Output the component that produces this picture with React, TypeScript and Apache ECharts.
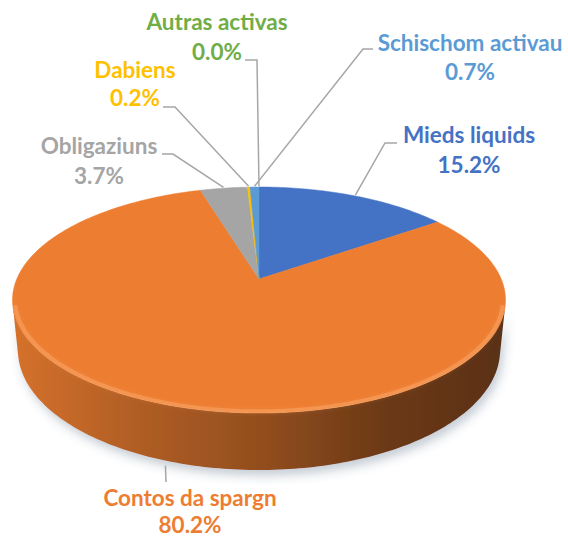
import React, { useEffect, useRef } from 'react';
import * as echarts from 'echarts';

// ---- data ----
const categories = ['Mieds liquids', 'Contos da spargn', 'Obligaziuns', 'Dabiens', 'Schischom activau', 'Autras activas'];
const shares = [15.2, 80.2, 3.7, 0.2, 0.7, 0.0];
const colors = ['#4472C4', '#ED7D31', '#A5A5A5', '#FFC000', '#5B9BD5', '#70AD47'];

// ---- layout (label anchors: center x, centers of the two text lines, leader start points) ----
const labelLayout = [
  { x: 469, y1: 134, y2: 164, lead: [[397, 143], [385, 143]], side: 'top' },
  { x: 190, y1: 497, y2: 524, lead: [[166, 482]], side: 'bottom' },
  { x: 99, y1: 145, y2: 175, lead: [[162, 154], [173, 154]], side: 'top' },
  { x: 135, y1: 69, y2: 97, lead: [[163, 107], [175, 107]], side: 'top' },
  { x: 470, y1: 42, y2: 71, lead: [[373, 49], [363, 49]], side: 'top' },
  { x: 217, y1: 21, y2: 51, lead: [[245, 60], [257, 60]], side: 'top' },
];

// perspective camera for the tilted disc
const CAM = { cx: 259, cy: 279, f: 1163.6, D: 4.804, s: 0.4504, c: 0.8928, h: 0.234 };

function proj(theta: number, r: number, zh: number): number[] {
  const X = r * Math.sin(theta);
  const Y = r * Math.cos(theta);
  const depth = CAM.D + Y * CAM.c - zh * CAM.s;
  return [CAM.cx + (CAM.f * X) / depth, CAM.cy - (CAM.f * (Y * CAM.s + zh * CAM.c)) / depth];
}

function arc(t0: number, t1: number, r: number, zh: number): number[][] {
  const n = Math.max(2, Math.ceil(((t1 - t0) * 180) / Math.PI));
  const pts: number[][] = [];
  for (let k = 0; k <= n; k++) pts.push(proj(t0 + ((t1 - t0) * k) / n, r, zh));
  return pts;
}

function shade(hex: string, f: number): string {
  const v = parseInt(hex.slice(1), 16);
  const r = Math.round(((v >> 16) & 255) * f);
  const g = Math.round(((v >> 8) & 255) * f);
  const b = Math.round((v & 255) * f);
  return `rgb(${r},${g},${b})`;
}

export default function App() {
  const ref = useRef<HTMLDivElement>(null);
  useEffect(() => {
    if (!ref.current) return;
    const chart = echarts.init(ref.current, undefined, { renderer: 'svg' });
    const total = shares.reduce((a, b) => a + b, 0);
    const starts: number[] = [];
    let acc = 0;
    shares.forEach((v) => {
      starts.push(acc);
      acc += v;
    });
    const k = 1 / (CAM.D * CAM.c);
    const vis0 = Math.acos(-k);
    const vis1 = 2 * Math.PI - vis0;
    const font = 'Lato, "Open Sans", sans-serif';

    const renderItem = (params: any, api: any) => {
      const i = params.dataIndex;
      const v = api.value(0);
      const t0 = (starts[i] / total) * 2 * Math.PI;
      const t1 = ((starts[i] + v) / total) * 2 * Math.PI;
      const tm = (t0 + t1) / 2;
      const color = colors[i];
      const children: any[] = [];

      if (v > 0) {
        const w0 = Math.max(t0, vis0);
        const w1 = Math.min(t1, vis1);
        if (w1 > w0) {
          const top = arc(w0, w1, 1, 0);
          const bot = arc(w0, w1, 1, -CAM.h).reverse();
          children.push({
            type: 'polygon',
            z2: 1,
            shape: { points: top.concat(bot) },
            style: {
              fill: new echarts.graphic.LinearGradient(13, 0, 506, 0, [
                { offset: 0, color: shade(color, 0.9) },
                { offset: 0.26, color: shade(color, 0.74) },
                { offset: 0.5, color: shade(color, 0.62) },
                { offset: 0.74, color: shade(color, 0.46) },
                { offset: 1, color: shade(color, 0.38) },
              ], true),
              shadowBlur: 10,
              shadowOffsetX: 3,
              shadowOffsetY: 6,
              shadowColor: 'rgba(60,80,110,0.28)',
            },
          });
          children.push({
            type: 'polyline',
            z2: 6,
            shape: { points: arc(w0, w1, 0.99, 0) },
            style: {
              stroke: 'rgba(255,185,130,0.35)',
              lineWidth: 4,
              fill: null,
              shadowBlur: 4,
              shadowColor: 'rgba(255,185,130,0.4)',
            },
          });
        }
        children.push({
          type: 'polygon',
          z2: 5,
          shape: { points: [proj(0, 0, 0)].concat(arc(t0, t1, 1, 0)) },
          style: { fill: color, stroke: color, lineWidth: 0.5 },
        });
      }

      const L = labelLayout[i];
      const anchor = L.side === 'bottom' ? proj(tm, 1, -CAM.h) : proj(tm, 1.01, 0);
      const leadPts = L.side === 'bottom'
        ? [[anchor[0], anchor[1] + 5], L.lead[0]]
        : L.lead.concat([anchor]);
      children.push({
        type: 'polyline',
        z2: 7,
        shape: { points: leadPts },
        style: { stroke: '#A6A6A6', lineWidth: 1.5, fill: null },
      });
      const pct = ((v / total) * 100).toFixed(1) + '%';
      [[categories[i], L.y1], [pct, L.y2]].forEach(([txt, y]) => {
        children.push({
          type: 'text',
          z2: 8,
          x: L.x,
          y: y as number,
          style: {
            text: txt as string,
            fill: color,
            fontSize: 22.5,
            fontWeight: 'bold',
            fontFamily: font,
            align: 'center',
            verticalAlign: 'middle',
          },
        });
      });
      return { type: 'group', children };
    };

    chart.setOption({
      animation: false,
      backgroundColor: '#ffffff',
      series: [
        {
          type: 'custom',
          coordinateSystem: 'none',
          renderItem,
          data: categories.map((name, i) => ({ name, value: shares[i] })),
        },
      ],
    });
    return () => chart.dispose();
  }, []);
  return <div ref={ref} style={{ position: 'absolute', left: 0, top: 0, width: 568, height: 538 }} />;
}
